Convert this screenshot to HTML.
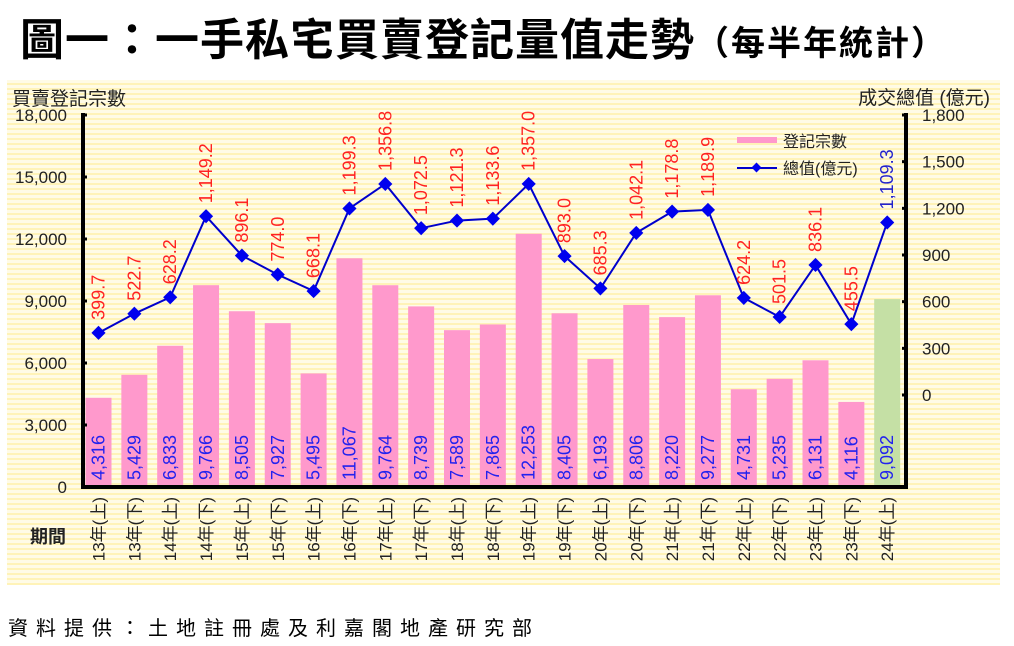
<!DOCTYPE html>
<html><head><meta charset="utf-8">
<style>
html,body{margin:0;padding:0;background:#fff;}
body{width:1014px;height:646px;overflow:hidden;position:relative;font-family:"Liberation Sans","Noto Sans CJK TC",sans-serif;}
#title{position:absolute;left:20px;top:4px;font-size:44px;font-weight:bold;white-space:nowrap;font-family:"Noto Sans CJK TC",sans-serif;letter-spacing:1px;}
#title span{font-size:34px;letter-spacing:2px;}
#bg{position:absolute;left:7px;top:80px;width:993px;height:505px;background:repeating-linear-gradient(#fffbe6 0px,#fffbe6 3px,#fff3b8 3px,#fff3b8 5px);}
#src{position:absolute;left:8px;top:612px;font-size:20px;letter-spacing:8px;font-family:"Noto Sans CJK TC",sans-serif;}
svg{position:absolute;left:0;top:0;}
</style></head><body>
<div id="title">圖一：一手私宅買賣登記量值走勢<span>（每半年統計）</span></div>
<div id="bg"></div>
<svg id="c" width="1014" height="646" font-family="Liberation Sans, Noto Sans CJK TC, sans-serif"></svg>
<div id="src">資料提供：土地註冊處及利嘉閣地產研究部</div>
<script>
var counts=[4316,5429,6833,9766,8505,7927,5495,11067,9764,8739,7589,7865,12253,8405,6193,8806,8220,9277,4731,5235,6131,4116,9092];
var vals=[399.7,522.7,628.2,1149.2,896.1,774.0,668.1,1199.3,1356.8,1072.5,1121.3,1133.6,1357.0,893.0,685.3,1042.1,1178.8,1189.9,624.2,501.5,836.1,455.5,1109.3];
var cats=["13年(上)","13年(下)","14年(上)","14年(下)","15年(上)","15年(下)","16年(上)","16年(下)","17年(上)","17年(下)","18年(上)","18年(下)","19年(上)","19年(下)","20年(上)","20年(下)","21年(上)","21年(下)","22年(上)","22年(下)","23年(上)","23年(下)","24年(上)"];
function fmt(n,d){var s=n.toFixed(d);var p=s.split('.');p[0]=p[0].replace(/\B(?=(\d{3})+(?!\d))/g,',');return p.join('.');}
var s='';
var L=83,R=906,B=487;
function yl(v){return B-v*372/18000;}
function yr(v){return 395-v*280/1800;}
function cx(i){return 98.5+i*35.85;}
for(var i=0;i<23;i++){
 var x=cx(i),y=yl(counts[i]);
 s+='<rect x="'+(x-13)+'" y="'+y+'" width="26" height="'+(B-y)+'" fill="'+(i==22?'#c5e0a5':'#ff99cc')+'"/>';
}
s+='<line x1="'+L+'" y1="113" x2="'+L+'" y2="'+(B+2)+'" stroke="#000" stroke-width="4"/>';
s+='<line x1="'+R+'" y1="113" x2="'+R+'" y2="'+(B+2)+'" stroke="#000" stroke-width="4"/>';
s+='<line x1="'+(L-2)+'" y1="'+B+'" x2="'+(R+2)+'" y2="'+B+'" stroke="#000" stroke-width="4"/>';
for(var k=0;k<=6;k++){var y=yl(k*3000);
 s+='<line x1="'+(L)+'" y1="'+y+'" x2="'+(L+4)+'" y2="'+y+'" stroke="#000" stroke-width="3"/>';
 s+='<text x="67" y="'+(y+6)+'" font-size="17" text-anchor="end" fill="#222">'+fmt(k*3000,0)+'</text>';}
for(var k=0;k<=6;k++){var y=yr(k*300);
 s+='<line x1="'+(R-4)+'" y1="'+y+'" x2="'+R+'" y2="'+y+'" stroke="#000" stroke-width="3"/>';
 s+='<text x="922" y="'+(y+6)+'" font-size="17" fill="#222">'+fmt(k*300,0)+'</text>';}
var pts=[];for(var i=0;i<23;i++)pts.push(cx(i)+','+yr(vals[i]));
s+='<polyline points="'+pts.join(' ')+'" fill="none" stroke="#0000cc" stroke-width="2"/>';
for(var i=0;i<23;i++){var x=cx(i),y=yr(vals[i]);
 s+='<rect x="'+(x-5)+'" y="'+(y-5)+'" width="10" height="10" fill="#0000ee" transform="rotate(45 '+x+' '+y+')"/>';
 var ly=y-13;
 s+='<text transform="translate('+(x+6)+','+ly+') rotate(-90)" font-size="18" fill="'+(i==22?'#2222cc':'#ff2222')+'">'+fmt(vals[i],1)+'</text>';
 s+='<text transform="translate('+(x+6)+',480) rotate(-90)" font-size="18" fill="#2222ee">'+fmt(counts[i],0)+'</text>';
 s+='<text transform="translate('+(x+6)+',497) rotate(-90)" font-size="17" text-anchor="end" fill="#222">'+cats[i]+'</text>';
}
s+='<text x="12" y="105" font-size="19" fill="#222">買賣登記宗數</text>';
s+='<text x="990" y="104" font-size="19" text-anchor="end" fill="#222">成交總值 (億元)</text>';
s+='<text x="30" y="543" font-size="18" font-weight="bold" fill="#222">期間</text>';
s+='<rect x="737" y="137" width="40" height="6" fill="#ff99cc"/>';
s+='<text x="783" y="147" font-size="16" fill="#222">登記宗數</text>';
s+='<line x1="737" y1="168" x2="777" y2="168" stroke="#0000cc" stroke-width="2"/>';
s+='<rect x="753" y="164" width="7" height="7" fill="#0000ee" transform="rotate(45 756.5 167.5)"/>';
s+='<text x="783" y="174" font-size="16" fill="#222">總值(億元)</text>';
document.getElementById('c').innerHTML=s;
</script>
</body></html>
